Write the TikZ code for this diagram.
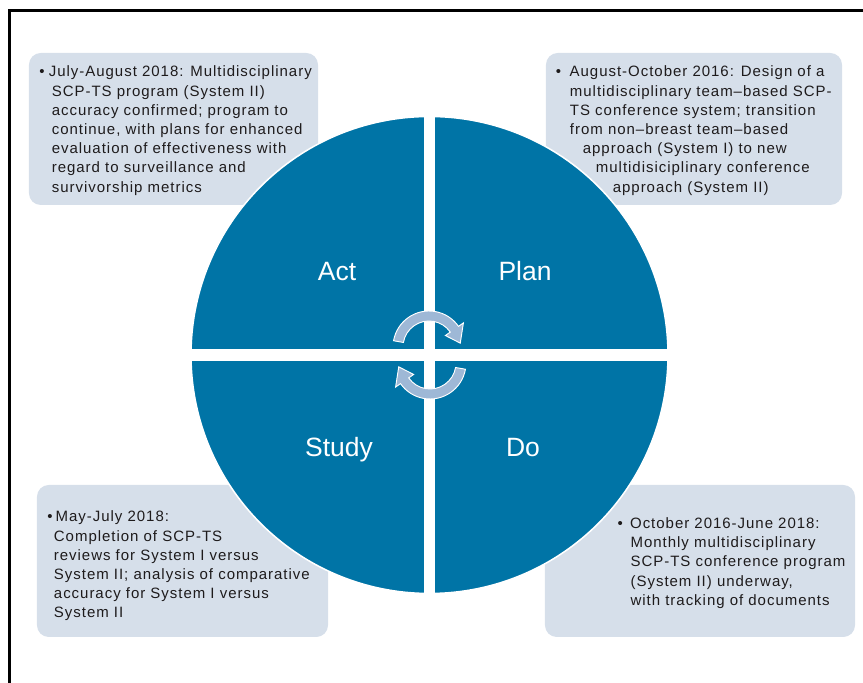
\documentclass[tikz,border=0pt]{standalone}
\usepackage{fontspec}
\setmainfont{Liberation Sans}
\newfontfamily\notefont{Liberation Sans}[LetterSpace=6.5]
\usetikzlibrary{positioning}

\definecolor{pdsablue}{RGB}{0,116,166}
\definecolor{notefill}{RGB}{214,223,234}
\definecolor{arrowfill}{RGB}{158,184,214}
\definecolor{notegray}{RGB}{30,27,28}

\tikzset{
  notebox/.style={rectangle,rounded corners=10pt,fill=notefill,inner sep=0pt,minimum height=4.56cm},
  notetext/.style={align=left,inner sep=0pt,text=notegray,font=\notefont\fontsize{12.8}{16.4}\selectfont},
  phase/.style={anchor=base,text=white,font=\fontsize{22.6}{27}\selectfont},
  cyclearrow/.style={fill=arrowfill,draw=white,line width=0.8pt}
}
\newcommand{\turnarrow}{(170:36) arc [start angle=170,end angle=35,radius=36] -- (35:42) -- (7:31.5)
  -- (35:20) -- (35:26) arc [start angle=35,end angle=170,radius=26] -- cycle}

\begin{document}
\begin{tikzpicture}[x=0.03cm,y=0.03cm]
  \useasboundingbox (0,0) rectangle (863,683);
  \draw[line width=2.2pt] (9.5,0) -- (9.5,672.5) -- (863,672.5);

  \node (actbox) at (173.5,554) [notebox,minimum width=8.67cm] {};
  \node (planbox) at (694,554) [notebox,minimum width=8.88cm] {};
  \node (studybox) at (182.5,122) [notebox,minimum width=8.73cm] {};
  \node (dobox) at (700,122) [notebox,minimum width=9.30cm] {};

  % the wheel
  \coordinate (c) at (429.5,328);
  \draw[fill=pdsablue,draw=white,line width=1.3pt] (c) circle [radius=238.5];
  \draw[white,line width=10.2pt] (c) ++(0,-240) -- ++(0,480);
  \draw[white,line width=10.2pt] (c) ++(-240,0) -- ++(480,0);

  \node (act) at (337,402) [phase] {Act};
  \node (plan) at (525,402) [phase] {Plan};
  \node (study) at (339,226) [phase] {Study};
  \node (do) at (523,226) [phase] {Do};

  \path[cyclearrow,shift={(429,336)}] \turnarrow;
  \path[cyclearrow,shift={(430,320)},rotate=180] \turnarrow;

  \node (acttext) [notetext,right=0.315cm of actbox.west,yshift=-0.05cm]
    {\textbullet\hspace{3.5pt}July-August 2018: Multidisciplinary\\
     \hspace*{10.5pt}SCP-TS program (System II)\\
     \hspace*{10.5pt}accuracy confirmed; program to\\
     \hspace*{10.5pt}continue, with plans for enhanced\\
     \hspace*{10.5pt}evaluation of effectiveness with\\
     \hspace*{10.5pt}regard to surveillance and\\
     \hspace*{10.5pt}survivorship metrics};
  \node (plantext) [notetext,right=0.297cm of planbox.west,yshift=-0.05cm]
    {\textbullet\hspace{7.3pt}August-October 2016: Design of a\\
     \hspace*{12pt}multidisciplinary team–based SCP-\\
     \hspace*{12pt}TS conference system; transition\\
     \hspace*{12pt}from non–breast team–based\\
     \hspace*{23pt}approach (System I) to new\\
     \hspace*{34.2pt}multidisiciplinary conference\\
     \hspace*{48.6pt}approach (System II)};
  \node (studytext) [notetext,right=0.315cm of studybox.west,yshift=-0.15cm]
    {\textbullet\hspace{2.5pt}May-July 2018:\\
     \hspace*{5.5pt}Completion of SCP-TS\\
     \hspace*{5.5pt}reviews for System I versus\\
     \hspace*{5.5pt}System II; analysis of comparative\\
     \hspace*{5.5pt}accuracy for System I versus\\
     \hspace*{5.5pt}System II};
  \node (dotext) [notetext,right=2.175cm of dobox.west,yshift=-0.06cm]
    {\textbullet\hspace{6.3pt}October 2016-June 2018:\\
     \hspace*{11.2pt}Monthly multidisciplinary\\
     \hspace*{11.2pt}SCP-TS conference program\\
     \hspace*{11.2pt}(System II) underway,\\
     \hspace*{11.2pt}with tracking of documents};
\end{tikzpicture}
\end{document}
